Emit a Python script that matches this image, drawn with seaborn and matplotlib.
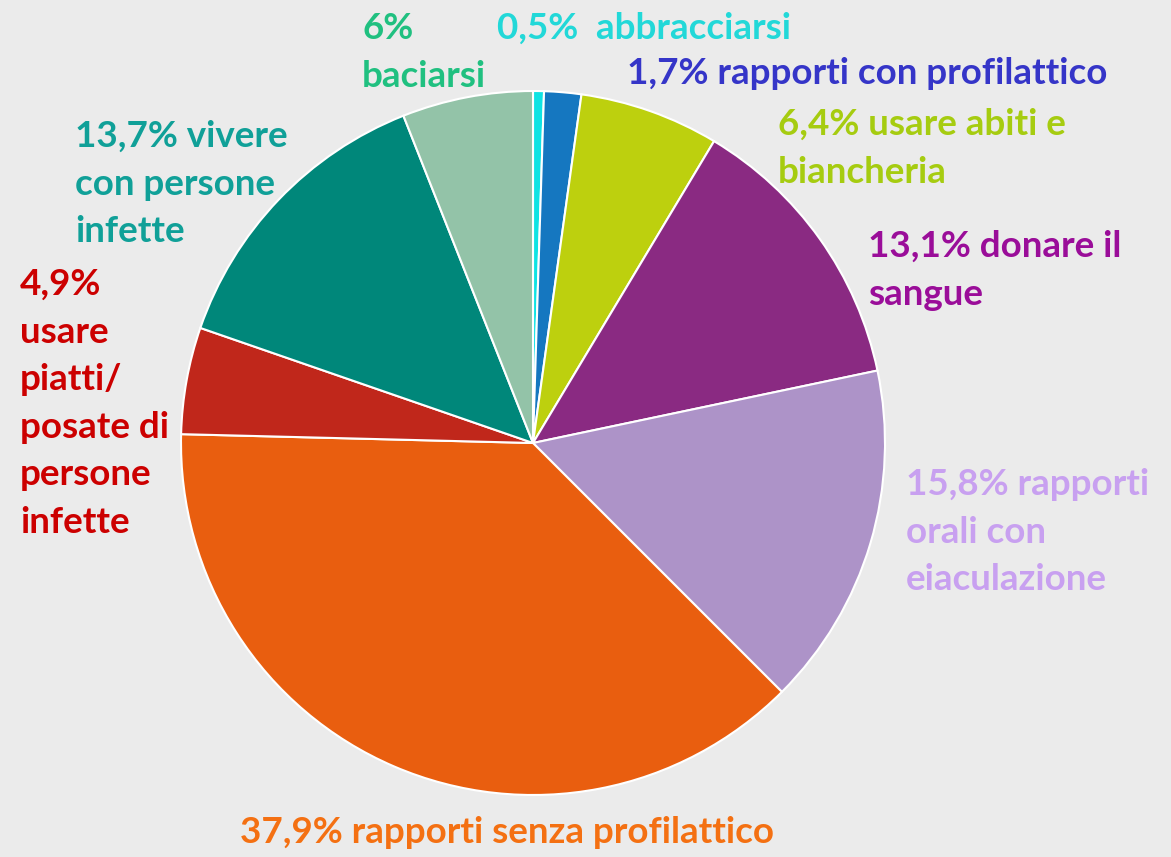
import matplotlib
matplotlib.use("Agg")
import matplotlib.pyplot as plt
import seaborn as sns

# slices, clockwise from 12 o'clock
labels = [
    "0,5%  abbracciarsi",
    "1,7% rapporti con profilattico",
    "6,4% usare abiti e\nbiancheria",
    "13,1% donare il\nsangue",
    "15,8% rapporti\norali con\neiaculazione",
    "37,9% rapporti senza profilattico",
    "4,9%\nusare\npiatti/\nposate di\npersone\ninfette",
    "13,7% vivere\ncon persone\ninfette",
    "6%\nbaciarsi",
]
values = [0.5, 1.7, 6.4, 13.1, 15.8, 37.9, 4.9, 13.7, 6.0]
slice_colors = ["#0fe3e3", "#1577c0", "#bdd00e", "#8a2a82", "#ad93c8",
                "#e95e0f", "#c0271b", "#00877a", "#93c3a8"]
text_colors = ["#22d8d8", "#3535c8", "#a6cc10", "#9a0d99", "#c8a0f0",
               "#f47012", "#cc0000", "#10a098", "#20c080"]
# label anchors (top-left, pixels from the top-left corner)
label_xy = [(497, 12), (627, 57), (778, 108), (868, 230), (906, 468),
            (240, 816), (20, 268), (75, 120), (362, 12)]

sns.set_theme(style="white")
plt.rcParams["font.family"] = ["Lato", "DejaVu Sans"]

W, H = 1171, 857
fig = plt.figure(figsize=(W / 100, H / 100), dpi=100)
fig.patch.set_facecolor("#ebebeb")
ax = fig.add_axes([0, 0, 1, 1])
ax.set_facecolor("#ebebeb")

ax.pie(values, colors=slice_colors, startangle=90, counterclock=False,
       center=(533, H - 443), radius=352, frame=True,
       wedgeprops=dict(edgecolor="white", linewidth=1.5))
ax.set_xlim(0, W)
ax.set_ylim(0, H)
ax.set_aspect("equal")
ax.axis("off")

for lab, col, (x, y) in zip(labels, text_colors, label_xy):
    ax.text(x, H - y, lab, color=col, fontsize=26.5, fontweight="bold",
            ha="left", va="top", linespacing=1.54)

fig.savefig("out.png", dpi=100, facecolor=fig.get_facecolor())
